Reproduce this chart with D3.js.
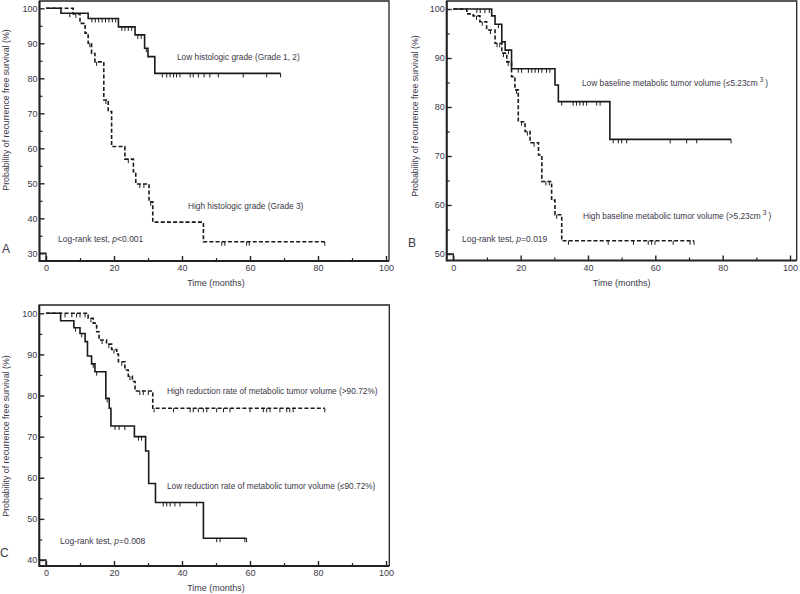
<!DOCTYPE html>
<html><head><meta charset="utf-8">
<script src="https://cdn.jsdelivr.net/npm/d3@7"></script>
<style>
body{margin:0;background:#fff}
svg{display:block}
text{font-family:"Liberation Sans",Arial,sans-serif;fill:#3b3848}
</style>
</head><body>
<svg id="c" width="800" height="594"></svg>
<script>
// ---------------- DATA ----------------
const xTicks = [0, 20, 40, 60, 80, 100];
const yTicksA = [30, 40, 50, 60, 70, 80, 90, 100];
const yTicksB = [50, 60, 70, 80, 90, 100];
const yTicksC = [40, 50, 60, 70, 80, 90, 100];

// Panel A - histologic grade
const aLowSteps = [[0,100],[4.4,98.6],[12.4,97.1],[21.3,94.7],[26.2,92.4],[29,88.6],[30,86.2],[32,81.4]];
const aLowEnd = 69;
const aLowCens = [7,13.5,14.5,15.5,16.5,17.5,18.5,19.5,20.5,22.3,23.2,24.2,25.2,27,28,29.5,34.2,35.5,36.5,37.5,38.4,39.4,42.4,43.3,44.8,46.5,48.2,50.7,58,64.9,69];
const aHighSteps = [[0,100],[8,98.4],[10,95.7],[11.5,92.9],[12.4,90],[13.4,87.1],[14.4,84.7],[17,73.8],[18.3,70.5],[19.3,60.5],[23.2,56.9],[25.7,53.3],[26.4,49.8],[30.3,44.7],[31.4,38.9],[46.3,33.3]];
const aHighEnd = 82;
const aHighCens = [8.8,12.9,14.9,17.6,24.2,27.6,28.8,30.8,51.7,52.6,59,59.8,82];

// Panel B - baseline metabolic tumor volume
const bLowSteps = [[0,100],[11.4,98.6],[12.4,96.9],[14.4,93.3],[15.4,91.6],[17.3,87.8],[30.2,84.5],[31.2,81.1],[46.5,73.4]];
const bLowEnd = 82.5;
const bLowCens = [7,8,9.4,10.7,13.4,16.4,19.3,20.3,22.3,23.3,24.3,25.3,26.3,27.7,28.7,32.2,35.6,36.6,37.6,38.6,39.6,42.6,43.6,47.5,49,50,51.5,64.4,69.3,72.3,82.5];
const bHighSteps = [[0,100],[4,99],[5.9,98.6],[7.9,97.4],[9.9,95.7],[12.4,93],[14.4,91],[15.9,89.2],[17.3,86.2],[18.3,83.5],[19.3,77],[21.3,75],[22.8,72.7],[25.3,70.2],[26.3,64.8],[29.2,61],[30.2,58],[32.2,52.7]];
const bHighEnd = 71.5;
const bHighCens = [6.9,8.6,11,13,13.8,14.9,16.3,18.8,20.3,22,24,27.5,28.5,30.7,34.2,46,53.5,57.9,58.9,59.9,65.3,70.3,71.5];

// Panel C - reduction rate of metabolic tumor volume
const cLowSteps = [[0,100],[4.3,98.2],[8.2,96.5],[10,95.1],[11.5,93.1],[12.2,89.6],[13.4,87.7],[14.4,85.8],[17.6,79.3],[18.6,76.9],[19.1,72.6],[26,70],[29.3,66.5],[30.2,58.6],[32.2,54],[46.3,45.3]];
const cLowEnd = 59;
const cLowCens = [8.7,10.5,13.9,14.9,18,20.3,21.5,23.2,27.2,28.1,34.5,35.5,36.5,37.9,39.4,44.3,50.2,51.2,58.5,59];
const cHighSteps = [[0,100],[12.4,98.8],[13.9,97.6],[14.9,95.5],[15.6,93.5],[17.8,92.5],[19.3,91.2],[20.8,90.1],[21.3,88.2],[23.2,86.2],[24.2,84.7],[25.4,83.4],[26.2,81.1],[31.4,76.9]];
const cHighEnd = 82;
const cHighCens = [5.6,7.6,9,10,11.5,13.2,16.5,18.5,20,22.3,24.7,27.6,28.6,30.1,31.8,37.5,42.4,43.3,44.8,46.3,47.3,50.2,52.2,54.1,60,63.9,64.9,65.9,68.8,70.8,71.7,72.7,82];

const yLabel = "Probability of recurrence free survival (%)";
const xLabel = "Time (months)";

// ---------------- LAYOUT ----------------
const svg = d3.select("#c");

const panels = [
  {letter:"A", box:{l:39.5,t:1,r:389,b:261}, xr:[46,386], yd:[30,100], yr:[253.3,8.3], yt:yTicksA,
   letterPos:[2,253], ylabPos:[9,110], xlabY:286,
   curves:[{steps:aLowSteps,end:aLowEnd,cens:aLowCens,dash:null},{steps:aHighSteps,end:aHighEnd,cens:aHighCens,dash:"4,2.2"}],
   notes:[{x:177,y:60,t:"Low histologic grade (Grade 1, 2)"},{x:188,y:209,t:"High histologic grade (Grade 3)"}],
   logrank:{x:58,y:242,p:"<0.001"}},
  {letter:"B", box:{l:446.7,t:1,r:796.7,b:260.5}, xr:[453.3,790], yd:[50,100], yr:[254,9], yt:yTicksB,
   letterPos:[408,247], ylabPos:[418,116], xlabY:286,
   curves:[{steps:bLowSteps,end:bLowEnd,cens:bLowCens,dash:null},{steps:bHighSteps,end:bHighEnd,cens:bHighCens,dash:"4,2.2"}],
   notes:[{x:582,y:86,t:"Low baseline metabolic tumor volume (≤5.23cm",sup:"3"},{x:583,y:219,t:"High baseline metabolic tumor volume (>5.23cm",sup:"3"}],
   logrank:{x:462,y:242,p:"=0.019"}},
  {letter:"C", box:{l:39.3,t:305,r:389.3,b:566}, xr:[46,386], yd:[40,100], yr:[560,313.3], yt:yTicksC,
   letterPos:[0,557], ylabPos:[9,436], xlabY:591,
   curves:[{steps:cLowSteps,end:cLowEnd,cens:cLowCens,dash:null},{steps:cHighSteps,end:cHighEnd,cens:cHighCens,dash:"4,2.2"}],
   notes:[{x:167,y:394,t:"High reduction rate of metabolic tumor volume (>90.72%)"},{x:167,y:489,t:"Low reduction rate of metabolic tumor volume (≤90.72%)"}],
   logrank:{x:60,y:544,p:"=0.008"}}
];

function stepValue(steps, t){
  let v = steps[0][1];
  for (const s of steps){ if (s[0] <= t) v = s[1]; }
  return v;
}

panels.forEach(P => {
  const g = svg.append("g");
  const x = d3.scaleLinear().domain([0,100]).range(P.xr);
  const y = d3.scaleLinear().domain(P.yd).range(P.yr);
  const B = P.box;

  // minor ticks
  const minorX = d3.range(10,100,20);
  const minorY = d3.range(P.yd[0]+5, 100, 10);
  g.append("g").attr("transform",`translate(0,${B.b})`)
    .call(d3.axisBottom(x).tickValues(minorX).tickSizeInner(-3).tickSizeOuter(0).tickFormat(""))
    .call(s=>s.select(".domain").remove())
    .call(s=>s.selectAll("line").attr("stroke","#222").attr("stroke-width",1.2));
  g.append("g").attr("transform",`translate(${B.l},0)`)
    .call(d3.axisLeft(y).tickValues(minorY).tickSizeInner(-3).tickSizeOuter(0).tickFormat(""))
    .call(s=>s.select(".domain").remove())
    .call(s=>s.selectAll("line").attr("stroke","#222").attr("stroke-width",1.2));

  // major ticks
  g.append("g").attr("transform",`translate(0,${B.b})`)
    .call(d3.axisBottom(x).tickValues(xTicks).tickSizeInner(-5).tickSizeOuter(0).tickPadding(4))
    .call(s=>s.select(".domain").remove())
    .call(s=>s.selectAll("line").attr("stroke","#222").attr("stroke-width",1.4))
    .call(s=>s.selectAll("text").attr("font-size",9).attr("fill","#3b3848").style("font-family","'Liberation Sans',Arial,sans-serif"));
  g.append("g").attr("transform",`translate(${B.l},0)`)
    .call(d3.axisLeft(y).tickValues(P.yt).tickSizeInner(-5).tickSizeOuter(0).tickPadding(2))
    .call(s=>s.select(".domain").remove())
    .call(s=>s.selectAll("line").attr("stroke","#222").attr("stroke-width",1.4))
    .call(s=>s.selectAll("text").attr("font-size",9).attr("fill","#3b3848").style("font-family","'Liberation Sans',Arial,sans-serif"));

  // frame
  g.append("path")
    .attr("d",`M${B.l},${B.b}V${B.t}H${B.r}V${B.b}`)
    .attr("fill","none").attr("stroke","#222").attr("stroke-width",1.3);
  g.append("path")
    .attr("d",`M${B.l},${B.t}V${B.b}H${B.r}`)
    .attr("fill","none").attr("stroke","#222").attr("stroke-width",2);
  // small corner box at axis origin
  g.append("path")
    .attr("d",`M${B.l},${y(P.yd[0])}H${x(0)}V${B.b}`)
    .attr("fill","none").attr("stroke","#222").attr("stroke-width",1.4);

  // curves
  const line = d3.line().x(d=>x(d[0])).y(d=>y(d[1])).curve(d3.curveStepAfter);
  P.curves.forEach(C => {
    const pts = C.steps.concat([[C.end, C.steps[C.steps.length-1][1]]]);
    g.append("path").attr("d", line(pts))
      .attr("fill","none").attr("stroke","#1a1a1a").attr("stroke-width",1.6)
      .attr("stroke-dasharray", C.dash);
    g.append("g").selectAll("line").data(C.cens).join("line")
      .attr("x1",d=>x(d)).attr("x2",d=>x(d))
      .attr("y1",d=>y(stepValue(C.steps,d))).attr("y2",d=>y(stepValue(C.steps,d))+4)
      .attr("stroke","#1a1a1a").attr("stroke-width",1);
  });

  // notes
  P.notes.forEach(n => {
    const t = g.append("text").attr("x",n.x).attr("y",n.y).attr("font-size",8.3).text(n.t);
    if (n.sup){
      t.append("tspan").attr("dx",2).attr("dy",-4).attr("font-size",6.5).text(n.sup);
      t.append("tspan").attr("dx",2).attr("dy",4).text(")");
    }
  });
  const lr = g.append("text").attr("x",P.logrank.x).attr("y",P.logrank.y).attr("font-size",8.5);
  lr.append("tspan").text("Log-rank test, ");
  lr.append("tspan").attr("font-style","italic").text("p");
  lr.append("tspan").text(P.logrank.p);

  // axis titles
  g.append("text").attr("x",x(50)).attr("y",P.xlabY).attr("text-anchor","middle").attr("font-size",9).text(xLabel);
  g.append("text").attr("transform",`translate(${P.ylabPos[0]},${P.ylabPos[1]}) rotate(-90)`)
    .attr("text-anchor","middle").attr("font-size",8.8).text(yLabel);

  // panel letter
  g.append("text").attr("x",P.letterPos[0]).attr("y",P.letterPos[1]).attr("font-size",12).attr("fill","#222").text(P.letter);
});
</script>
</body></html>
